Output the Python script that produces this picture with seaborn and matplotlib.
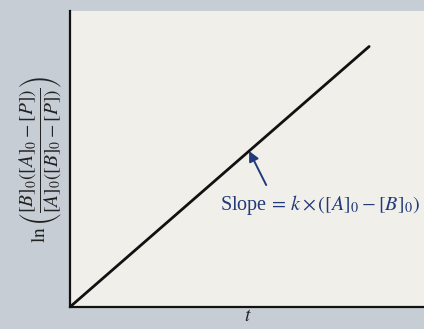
import matplotlib
matplotlib.use("Agg")
import matplotlib.pyplot as plt
import seaborn as sns
import pandas as pd

# Straight-line plot of the integrated second-order rate law
t_values = [0.0, 0.84]
ln_ratio = [0.0, 0.88]

x_label = "$t$"
y_label = r"$\ln\left(\dfrac{[B]_0([A]_0-[P])}{[A]_0([B]_0-[P])}\right)$"
slope_label = r"Slope$\,=\,k\times([A]_0-[B]_0)$"

sns.set_theme(style="white")
plt.rcParams["font.family"] = ["Liberation Serif", "DejaVu Serif"]
plt.rcParams["mathtext.fontset"] = "stix"

fig = plt.figure(figsize=(4.24, 3.29), dpi=100, facecolor="#c7cdd5")
ax = fig.add_axes([0.165, 0.067, 0.84, 0.8996])
ax.set_facecolor("#f0efe9")

df = pd.DataFrame({"t": t_values, "y": ln_ratio})
sns.lineplot(data=df, x="t", y="y", ax=ax, color="#111111", linewidth=2.0)

ax.set_xlim(0, 1)
ax.set_ylim(0, 1)
ax.set_xticks([])
ax.set_yticks([])
for side in ["top", "right"]:
    ax.spines[side].set_visible(False)
for side in ["left", "bottom"]:
    ax.spines[side].set_color("#111111")
    ax.spines[side].set_linewidth(1.6)

ax.set_xlabel(x_label, fontsize=14, color="#222222", labelpad=1)
ax.set_ylabel(y_label, fontsize=14, color="#222222", labelpad=4)

# Arrow pointing at the line, with the slope expression beneath it
ax.annotate("", xy=(0.503, 0.527), xytext=(0.551, 0.412),
            arrowprops=dict(arrowstyle="-|>", color="#22397a", lw=1.4,
                            mutation_scale=15, shrinkA=0, shrinkB=0))
ax.text(0.421, 0.345, slope_label, fontsize=14.5, color="#22397a",
        ha="left", va="center")

fig.savefig("out.png", dpi=100, facecolor=fig.get_facecolor())
